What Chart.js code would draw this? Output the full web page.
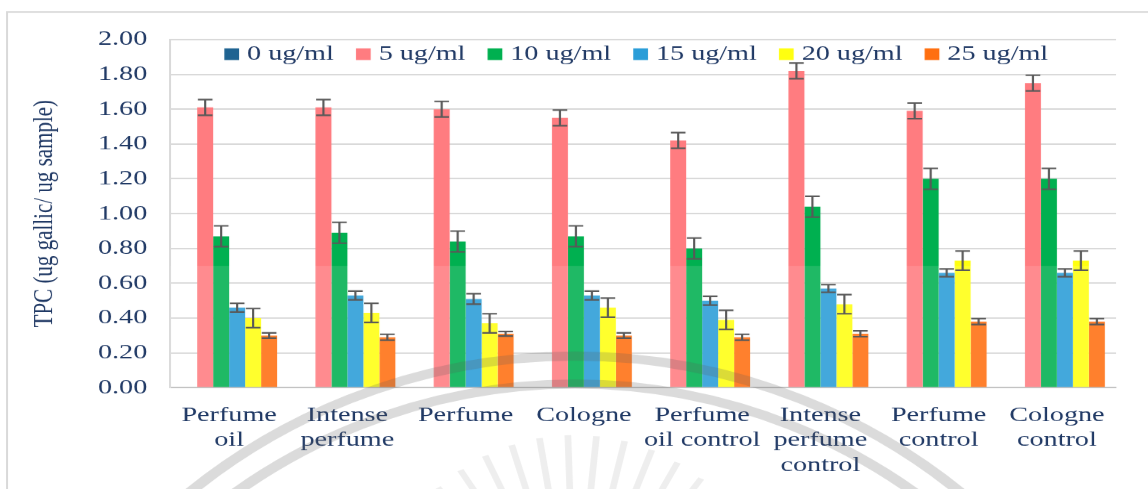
<!DOCTYPE html>
<html>
<head>
<meta charset="UTF-8">
<title>TPC</title>
<script src="https://cdn.jsdelivr.net/npm/chart.js"></script>
<style>
    body { margin: 0; background: #fff; overflow: hidden; }
    /* chart is drawn narrow and widened to the page */
    #wrap { width: 857px; height: 489px; transform: scaleX(1.33956); transform-origin: 0 0; }
</style>
</head>
<body>
<div id="wrap"><canvas id="tpc-chart" width="857" height="489"></canvas></div>
<script>
    const categories = [
        ['Perfume', 'oil'],
        ['Intense', 'perfume'],
        'Perfume',
        'Cologne',
        ['Perfume', 'oil control'],
        ['Intense', 'perfume', 'control'],
        ['Perfume', 'control'],
        ['Cologne', 'control']
    ];

    const conc0 = [0, 0, 0, 0, 0, 0, 0, 0];
    const conc5 = [1.61, 1.61, 1.60, 1.55, 1.42, 1.82, 1.59, 1.75];
    const conc10 = [0.87, 0.89, 0.84, 0.87, 0.80, 1.04, 1.20, 1.20];
    const conc15 = [0.46, 0.53, 0.51, 0.53, 0.50, 0.57, 0.66, 0.66];
    const conc20 = [0.40, 0.43, 0.37, 0.46, 0.39, 0.48, 0.73, 0.73];
    const conc25 = [0.30, 0.29, 0.31, 0.30, 0.29, 0.31, 0.38, 0.38];

    // standard deviations
    const err5 = [0.045, 0.045, 0.045, 0.045, 0.045, 0.045, 0.045, 0.045];
    const err10 = [0.06, 0.06, 0.06, 0.06, 0.06, 0.06, 0.06, 0.06];
    const err15 = [0.025, 0.025, 0.03, 0.025, 0.025, 0.022, 0.022, 0.022];
    const err20 = [0.055, 0.055, 0.055, 0.055, 0.055, 0.055, 0.055, 0.055];
    const err25 = [0.015, 0.017, 0.013, 0.015, 0.017, 0.017, 0.017, 0.017];

    const yTickLabels = ['0.00', '0.20', '0.40', '0.60', '0.80', '1.00', '1.20', '1.40', '1.60', '1.80', '2.00'];

    const SX = 1148 / 857;
    const navy = '#1f3864';
    const serif = "'Liberation Serif', 'Times New Roman', serif";

    const series = [
        { label: '0 ug/ml', data: conc0, errors: null, color: '#1f6391' },
        { label: '5 ug/ml', data: conc5, errors: err5, color: '#ff7c80' },
        { label: '10 ug/ml', data: conc10, errors: err10, color: '#00b050' },
        { label: '15 ug/ml', data: conc15, errors: err15, color: '#2a9dd8' },
        { label: '20 ug/ml', data: conc20, errors: err20, color: '#ffff10' },
        { label: '25 ug/ml', data: conc25, errors: err25, color: '#ff6f10' }
    ];

    // thin frame round the figure
    const frame = {
        id: 'frame',
        beforeDraw(chart) {
            const ctx = chart.ctx;
            ctx.save();
            ctx.strokeStyle = '#d9d9d9';
            ctx.lineWidth = 1.5;
            ctx.strokeRect(7 / SX, 12, 2000, 2000);
            ctx.restore();
        }
    };

    // legend takes no room of its own and is drawn over the top of the plot;
    // its swatches are drawn here, closer to the text than the default
    const legendInPlot = {
        id: 'legendInPlot',
        beforeLayout(chart) {
            const lg = chart.legend;
            if (lg && !lg._noSpace) {
                const fit = lg.fit.bind(lg);
                lg.fit = function () {
                    fit();
                    this._fullHeight = this.height;
                    this.height = 0;
                };
                lg._noSpace = true;
            }
        },
        afterLayout(chart) {
            const lg = chart.legend;
            const area = chart.chartArea;
            lg.top = 31.5;
            lg.height = lg._fullHeight;
            lg.bottom = lg.top + lg.height;
            lg.left = area.left - 7.3;
            lg.right = area.right - 7.3;
            lg.width = lg.right - lg.left;
        },
        afterDraw(chart) {
            const lg = chart.legend;
            const ctx = chart.ctx;
            ctx.save();
            lg.legendItems.forEach((item, i) => {
                const hb = lg.legendHitBoxes[i];
                ctx.fillStyle = series[item.datasetIndex].color;
                ctx.fillRect(hb.left + 4.5, 48.3, 11, 11.7);
            });
            ctx.restore();
        }
    };

    const errorBars = {
        id: 'errorBars',
        afterDatasetsDraw(chart) {
            const ctx = chart.ctx;
            const y = chart.scales.y;
            const area = chart.chartArea;

            // pale wash over the lower part of the plot
            const washTop = y.getPixelForValue(0.70);
            ctx.save();
            ctx.fillStyle = 'rgba(255,255,255,0.12)';
            ctx.fillRect(area.left, washTop, area.right - area.left, area.bottom - washTop);

            ctx.strokeStyle = '#595959';
            ctx.lineWidth = 1.6;
            chart.data.datasets.forEach((ds, i) => {
                if (!ds.errors) return;
                chart.getDatasetMeta(i).data.forEach((bar, j) => {
                    const v = ds.data[j];
                    const e = ds.errors[j];
                    const top = y.getPixelForValue(v + e);
                    const bot = y.getPixelForValue(v - e);
                    const half = bar.width / 2 - 0.5;
                    ctx.beginPath();
                    ctx.moveTo(bar.x, top);
                    ctx.lineTo(bar.x, bot);
                    ctx.moveTo(bar.x - half, top);
                    ctx.lineTo(bar.x + half, top);
                    ctx.moveTo(bar.x - half, bot);
                    ctx.lineTo(bar.x + half, bot);
                    ctx.stroke();
                });
            });

            // faint seal in the background
            const cx = 575 / SX;
            ctx.strokeStyle = 'rgba(90,90,90,0.22)';
            ctx.lineWidth = 9;
            [[613, 969], [585, 969]].forEach(([r, cy]) => {
                ctx.beginPath();
                ctx.ellipse(cx, cy, r / SX, r, 0, Math.PI, 2 * Math.PI);
                ctx.stroke();
            });
            ctx.lineWidth = 5;
            ctx.strokeStyle = 'rgba(90,90,90,0.10)';
            for (let a = -140; a <= -40; a += 8) {
                const t = a * Math.PI / 180;
                ctx.beginPath();
                ctx.moveTo(cx + Math.cos(t) * 110 / SX, 640 + Math.sin(t) * 110);
                ctx.lineTo(cx + Math.cos(t) * 205 / SX, 640 + Math.sin(t) * 205);
                ctx.stroke();
            }
            ctx.restore();
        }
    };

    new Chart(document.getElementById('tpc-chart'), {
        type: 'bar',
        data: {
            labels: categories,
            datasets: series.map(s => ({
                label: s.label,
                data: s.data,
                errors: s.errors,
                backgroundColor: s.color,
                borderWidth: 0,
                categoryPercentage: 0.811,
                barPercentage: 1.0
            }))
        },
        options: {
            responsive: false,
            animation: false,
            devicePixelRatio: SX,
            layout: {
                padding: { left: 8, right: 857 - 1116 / SX, top: 39.5, bottom: 0 }
            },
            plugins: {
                legend: {
                    position: 'top',
                    align: 'center',
                    labels: {
                        boxWidth: 11,
                        boxHeight: 12,
                        padding: 12,
                        color: navy,
                        font: { family: serif, size: 21 },
                        generateLabels: chart =>
                            Chart.defaults.plugins.legend.labels.generateLabels(chart).map(item => ({
                                ...item,
                                fillStyle: 'rgba(0,0,0,0)',
                                strokeStyle: 'rgba(0,0,0,0)',
                                lineWidth: 0
                            }))
                    }
                },
                tooltip: { enabled: false }
            },
            scales: {
                x: {
                    grid: { display: false, drawTicks: false },
                    border: { display: true, color: '#bfbfbf', width: 1.5 },
                    ticks: {
                        color: navy,
                        font: { family: serif, size: 21 },
                        padding: 15,
                        maxRotation: 0,
                        autoSkip: false
                    },
                    afterFit: s => { s.height = 489 - 387.7; }
                },
                y: {
                    min: 0,
                    max: 2,
                    ticks: {
                        stepSize: 0.2,
                        callback: (v, i) => yTickLabels[i],
                        padding: 17,
                        color: navy,
                        font: { family: serif, size: 21 }
                    },
                    grid: { color: '#d9d9d9', lineWidth: 1.5, drawTicks: false },
                    border: { display: true, color: '#d9d9d9', width: 1.5 },
                    title: {
                        display: true,
                        text: 'TPC (ug gallic/ ug sample)',
                        color: navy,
                        font: { family: serif, size: 21 },
                        padding: { top: 13, bottom: 0 }
                    },
                    afterFit: s => { s.width = 126.9 - 8; }
                }
            }
        },
        plugins: [frame, legendInPlot, errorBars]
    });
</script>
</body>
</html>
